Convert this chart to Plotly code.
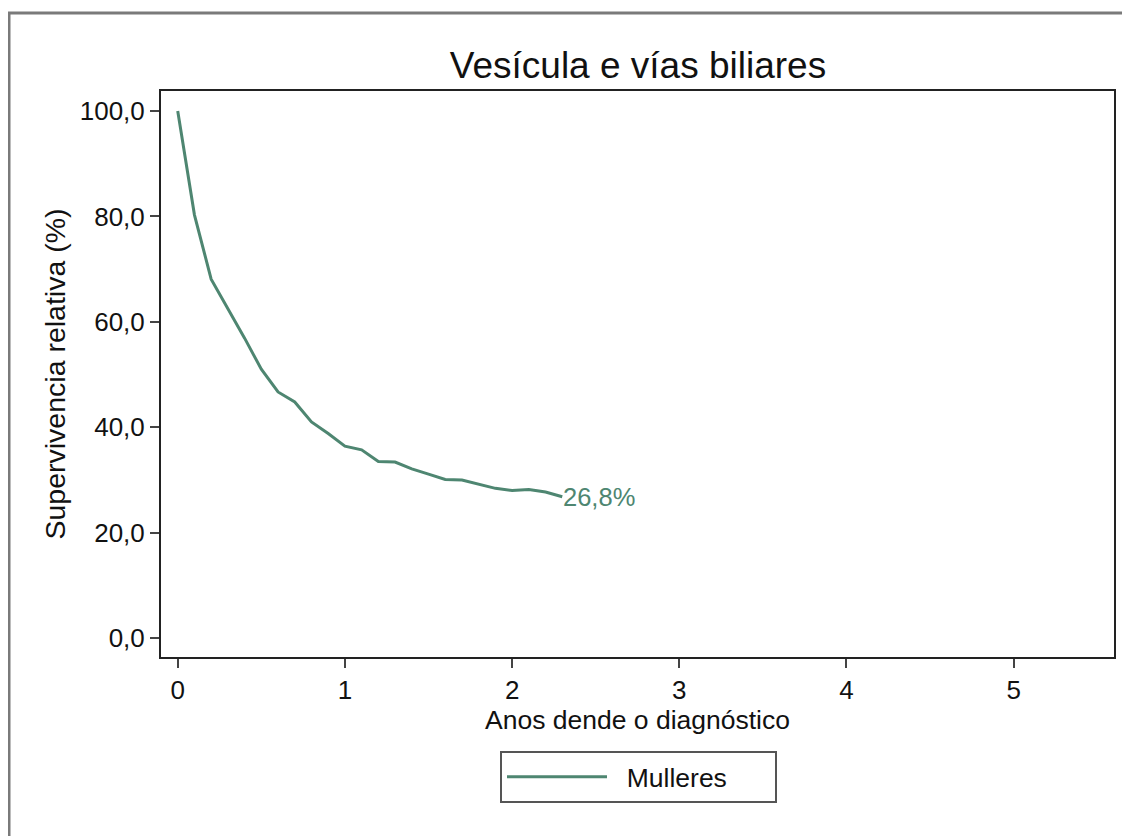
import plotly.graph_objects as go

# Data
years = [0.0, 0.1, 0.2, 0.3, 0.4, 0.5, 0.6, 0.7, 0.8, 0.9, 1.0, 1.1, 1.2,
         1.3, 1.4, 1.5, 1.6, 1.7, 1.8, 1.9, 2.0, 2.1, 2.2, 2.3]
survival = [100.0, 80.3, 68.1, 62.6, 56.9, 51.0, 46.7, 44.8, 41.0, 38.8, 36.4,
            35.7, 33.5, 33.4, 32.1, 31.1, 30.1, 30.0, 29.2, 28.4, 28.0, 28.2,
            27.7, 26.8]
series_name = "Mulleres"
end_label = "26,8%"
x_ticks = [0, 1, 2, 3, 4, 5]
y_ticks = [0, 20, 40, 60, 80, 100]

COLOR = "#4e8671"
FONT = "Arial, Liberation Sans, sans-serif"

W, H = 1130, 836
OFF = 8  # page body margin
L, R, T, B = 161 - OFF, 1114 - OFF, 91 - OFF, 657 - OFF
pw, ph = R - L, B - T

def px_x(p):
    return (p - OFF - L) / pw

def px_y(p):
    return (B - (p - OFF)) / ph

fig = go.Figure()
fig.add_trace(go.Scatter(
    x=years, y=survival, mode="lines", name="\u00a0\u00a0" + series_name,
    line=dict(color=COLOR, width=3),
))

fig.add_annotation(
    x=years[-1], y=survival[-1], text=end_label, showarrow=False,
    xanchor="left", yanchor="middle", xshift=-1,
    font=dict(family=FONT, size=25.5, color=COLOR),
)

# outer gray frame
fig.add_shape(type="rect", xref="paper", yref="paper",
              x0=px_x(9), x1=px_x(1150), y0=px_y(856), y1=px_y(13),
              line=dict(color="#7a7a7a", width=3), layer="below")

fig.update_layout(
    width=W, height=H,
    margin=dict(l=L, r=W - R, t=T, b=H - B),
    paper_bgcolor="white", plot_bgcolor="white",
    separators=", ",
    font=dict(family=FONT, size=26, color="#111"),
    title=dict(text="Vesícula e vías biliares", x=px_x(638), xref="paper",
               y=1 - (65 - OFF) / H, yref="container", xanchor="center",
               yanchor="middle",
               font=dict(size=37, family=FONT, color="#111")),
    showlegend=True,
    legend=dict(x=px_x(638.5), xanchor="center", y=px_y(751), yanchor="top",
                orientation="h", bordercolor="#555", borderwidth=2,
                itemwidth=100, entrywidth=158,
                font=dict(size=26.5, family=FONT, color="#111"),
                bgcolor="white"),
    xaxis=dict(range=[-0.1, 5.6], tickvals=x_ticks, ticks="outside", ticklen=9,
               tickwidth=2, tickcolor="#444", showgrid=False, zeroline=False,
               showline=True, linecolor="#222", linewidth=2, mirror=True,
               tickfont=dict(size=26),
               title=dict(text="Anos dende o diagnóstico", standoff=6,
                          font=dict(size=26.5, family=FONT, color="#111"))),
    yaxis=dict(range=[-3.6, 103.8], tickvals=y_ticks, tickformat=".1f",
               ticks="outside", ticklen=9, tickwidth=2, tickcolor="#444",
               showgrid=False, zeroline=False, showline=True, linecolor="#222",
               linewidth=2, mirror=True, tickfont=dict(size=26),
               title=dict(text="Supervivencia relativa (%)", standoff=6,
                          font=dict(size=28.5, family=FONT, color="#111"))),
)

fig.write_html("out.html")
